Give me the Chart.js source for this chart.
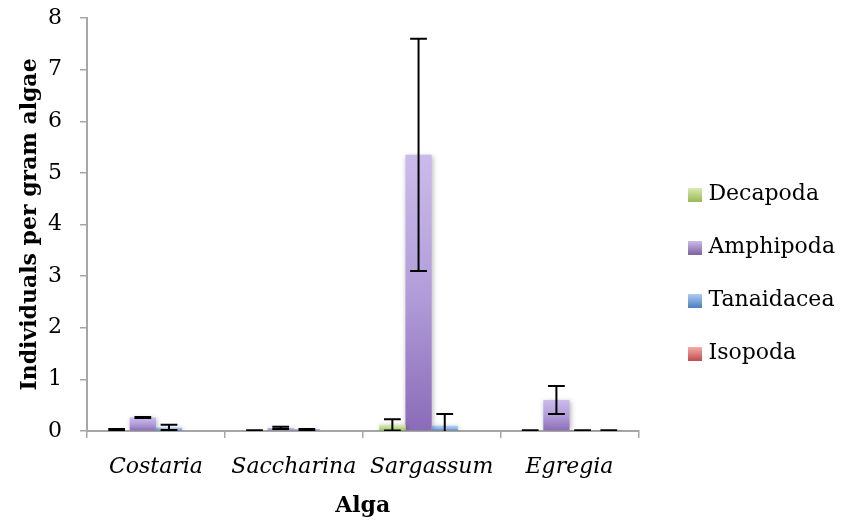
<!DOCTYPE html>
<html>
<head>
<meta charset="utf-8">
<script src="https://cdn.jsdelivr.net/npm/chart.js@4"></script>
<style>
  html, body { margin: 0; padding: 0; background: #fff; }
  #wrap { width: 843px; height: 522px; }
</style>
</head>
<body>
<div id="wrap"><canvas id="myChart" width="843" height="522"></canvas></div>
<script>
// data
var algae = ['Costaria', 'Saccharina', 'Sargassum', 'Egregia'];
var decapoda = [0.02, 0.01, 0.12, 0.01];
var decapodaErr = [0.02, 0.005, 0.11, 0.005];
var amphipoda = [0.26, 0.06, 5.35, 0.6];
var amphipodaErr = [0.01, 0.02, 2.25, 0.27];
var tanaidacea = [0.07, 0.03, 0.1, 0.01];
var tanaidaceaErr = [0.05, 0.01, 0.23, 0.005];
var isopoda = [0, 0, 0, 0.01];
var isopodaErr = [null, null, null, 0.005];
var yMin = 0, yMax = 8, yStep = 1;

var FONT = "'DejaVu Serif', serif";

// excel-ish vertical gradient per bar
function barFill(light, mid, dark) {
  return function (c) {
    var chart = c.chart;
    if (!chart.chartArea || c.type !== 'data') return mid;
    var ys = chart.scales.y;
    var top = ys.getPixelForValue(c.raw), base = ys.getPixelForValue(0);
    if (base - top < 2) return dark;
    var g = chart.ctx.createLinearGradient(0, top, 0, base);
    g.addColorStop(0, light);
    g.addColorStop(0.5, mid);
    g.addColorStop(1, dark);
    return g;
  };
}

function swatch(light, dark) {
  var cv = document.createElement('canvas');
  cv.width = 14; cv.height = 14;
  var x = cv.getContext('2d');
  var g = x.createLinearGradient(0, 0, 0, 14);
  g.addColorStop(0, light);
  g.addColorStop(1, dark);
  x.fillStyle = g;
  x.fillRect(0, 0, 14, 14);
  return cv;
}

var swatches = [
  swatch('#dcedb4', '#9bbb59'),
  swatch('#cfbfec', '#8064a2'),
  swatch('#b2d0f7', '#4f81bd'),
  swatch('#f7b0ad', '#c0504d')
];

var barShadow = {
  id: 'barShadow',
  beforeDatasetsDraw: function (chart) {
    var c = chart.ctx;
    c.save();
    c.shadowColor = 'rgba(0,0,0,0.28)';
    c.shadowBlur = 5;
    c.shadowOffsetX = 1;
    c.shadowOffsetY = 1;
  },
  afterDatasetsDraw: function (chart) {
    chart.ctx.restore();
  }
};

var errorBars = {
  id: 'errorBars',
  afterDatasetsDraw: function (chart) {
    var c = chart.ctx, ys = chart.scales.y, a = chart.chartArea;
    c.save();
    c.beginPath();
    c.rect(a.left, a.top - 5, a.right - a.left, a.bottom - a.top + 5);
    c.clip();
    c.strokeStyle = '#000';
    c.lineWidth = 2;
    chart.data.datasets.forEach(function (ds, i) {
      var meta = chart.getDatasetMeta(i);
      meta.data.forEach(function (bar, j) {
        var e = ds.errors[j];
        if (e == null) return;
        var v = ds.data[j];
        var top = ys.getPixelForValue(v + e);
        var bot = ys.getPixelForValue(v - e);
        var half = bar.width * 0.32;
        c.beginPath();
        c.moveTo(bar.x, top); c.lineTo(bar.x, bot);
        c.moveTo(bar.x - half, top); c.lineTo(bar.x + half, top);
        c.moveTo(bar.x - half, bot); c.lineTo(bar.x + half, bot);
        c.stroke();
      });
    });
    c.restore();
  }
};

// nudge legend out to where the reference has it
var legendSpot = {
  id: 'legendSpot',
  afterLayout: function (chart) {
    var lg = chart.legend, w = lg.width;
    lg.left = chart.chartArea.right + 24;
    lg.right = lg.left + w;
    lg.top += 4;
    lg.bottom += 4;
  }
};

var ctx = document.getElementById('myChart').getContext('2d');
var chart = new Chart(ctx, {
  type: 'bar',
  data: {
    labels: algae,
    datasets: [
      { label: 'Decapoda', data: decapoda, errors: decapodaErr,
        backgroundColor: barFill('#dcedb4', '#bcd88a', '#9bbb59') },
      { label: 'Amphipoda', data: amphipoda, errors: amphipodaErr,
        backgroundColor: barFill('#cbbbeb', '#b29dd9', '#8a6bb8') },
      { label: 'Tanaidacea', data: tanaidacea, errors: tanaidaceaErr,
        backgroundColor: barFill('#b2d0f7', '#8fb6ea', '#4f81bd') },
      { label: 'Isopoda', data: isopoda, errors: isopodaErr,
        backgroundColor: barFill('#f7b0ad', '#e58a87', '#c0504d') }
    ]
  },
  options: {
    responsive: false,
    animation: false,
    layout: { padding: { left: 8, top: 18, right: 22, bottom: 0 } },
    datasets: {
      bar: { categoryPercentage: 0.76, barPercentage: 1, borderWidth: 0 }
    },
    plugins: {
      tooltip: { enabled: false },
      legend: {
        position: 'right',
        labels: {
          font: { family: FONT, size: 22 },
          color: '#000',
          usePointStyle: true,
          boxWidth: 4,
          boxHeight: 14,
          padding: 31,
          generateLabels: function (chart) {
            var items = Chart.defaults.plugins.legend.labels.generateLabels(chart);
            items.forEach(function (it, i) {
              it.pointStyle = swatches[i];
              it.lineWidth = 0;
            });
            return items;
          }
        }
      }
    },
    scales: {
      x: {
        grid: { drawOnChartArea: false, drawTicks: true, tickLength: 7, color: '#a6a6a6', lineWidth: 1.5 },
        border: { color: '#a6a6a6', width: 2 },
        ticks: { color: '#000', font: { family: FONT, size: 22, style: 'italic' }, padding: 16 },
        title: { display: true, text: 'Alga', color: '#000',
                 font: { family: FONT, size: 22, weight: 'bold' }, padding: { top: 4, bottom: 3 } },
        afterFit: function (s) { s.height = 91; }
      },
      y: {
        min: yMin, max: yMax,
        grid: { drawOnChartArea: false, drawTicks: true, tickLength: 7, color: '#a6a6a6', lineWidth: 1.5 },
        border: { color: '#a6a6a6', width: 2 },
        ticks: { stepSize: yStep, color: '#000', font: { family: FONT, size: 22 }, padding: 18 },
        title: { display: true, text: 'Individuals per gram algae', color: '#000',
                 font: { family: FONT, size: 22, weight: 'bold' }, padding: { top: 9, bottom: 0 } },
        afterFit: function (s) { s.width = 79; s.paddingTop = 0; s.paddingBottom = 0; }
      }
    }
  },
  plugins: [barShadow, errorBars, legendSpot]
});
</script>
</body>
</html>
